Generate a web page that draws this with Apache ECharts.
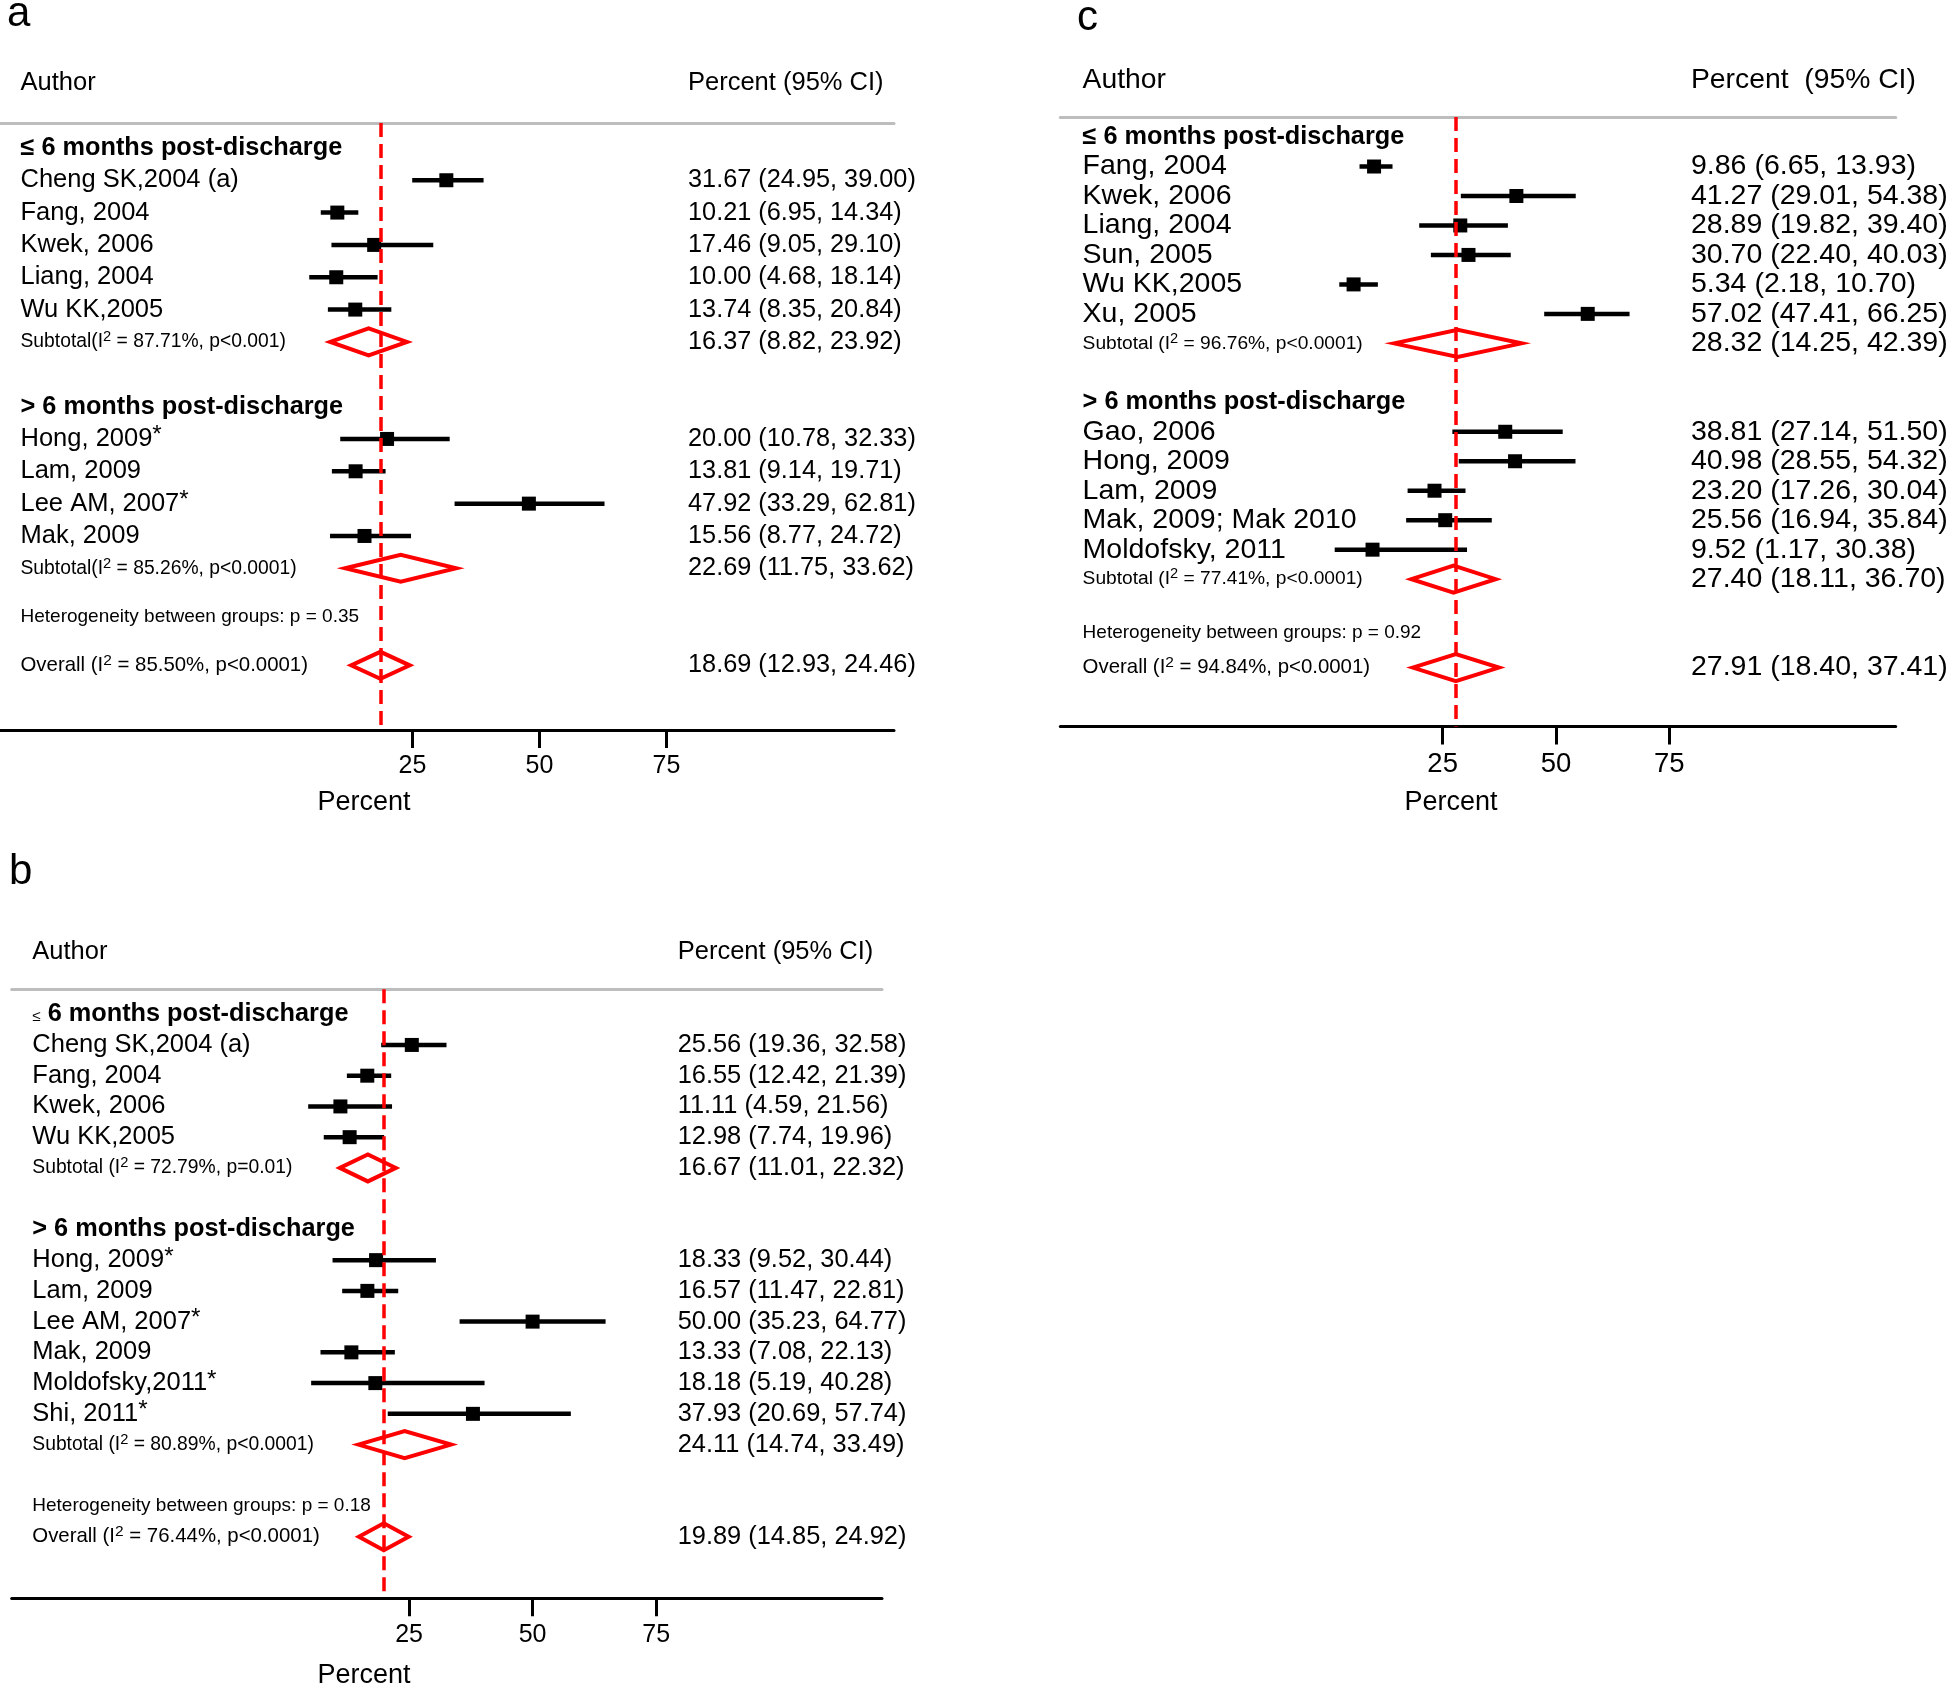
<!DOCTYPE html>
<html><head><meta charset="utf-8">
<script src="https://cdn.jsdelivr.net/npm/echarts@6/dist/echarts.min.js"></script>
<style>html,body{margin:0;padding:0;background:#fff}#c{width:1946px;height:1688px}</style>
</head><body><div id="c"></div><script>
// ================= DATA =================
const tickValues = [25, 50, 75];
const groupHeads = ['≤ 6 months post-discharge', '> 6 months post-discharge'];

// ---- panel a ----
const aAuthors = ['Cheng SK,2004 (a)', 'Fang, 2004', 'Kwek, 2006', 'Liang, 2004', 'Wu KK,2005', 'Hong, 2009*', 'Lam, 2009', 'Lee AM, 2007*', 'Mak, 2009'];
const aGroup = [1, 1, 1, 1, 1, 2, 2, 2, 2];
const aEst = [31.67, 10.21, 17.46, 10.00, 13.74, 20.00, 13.81, 47.92, 15.56];
const aLo  = [24.95, 6.95, 9.05, 4.68, 8.35, 10.78, 9.14, 33.29, 8.77];
const aHi  = [39.00, 14.34, 29.10, 18.14, 20.84, 32.33, 19.71, 62.81, 24.72];
const aSubEst = [16.37, 22.69];
const aSubLo  = [8.82, 11.75];
const aSubHi  = [23.92, 33.62];
const aSubLabels = ['Subtotal(I^2 = 87.71%, p<0.001)', 'Subtotal(I^2 = 85.26%, p<0.0001)'];
const aHetLabel = 'Heterogeneity between groups: p = 0.35';
const aOverall = [18.69, 12.93, 24.46];
const aOverallLabel = 'Overall (I^2 = 85.50%, p<0.0001)';

// ---- panel b ----
const bAuthors = ['Cheng SK,2004 (a)', 'Fang, 2004', 'Kwek, 2006', 'Wu KK,2005', 'Hong, 2009*', 'Lam, 2009', 'Lee AM, 2007*', 'Mak, 2009', 'Moldofsky,2011*', 'Shi, 2011*'];
const bGroup = [1, 1, 1, 1, 2, 2, 2, 2, 2, 2];
const bEst = [25.56, 16.55, 11.11, 12.98, 18.33, 16.57, 50.00, 13.33, 18.18, 37.93];
const bLo  = [19.36, 12.42, 4.59, 7.74, 9.52, 11.47, 35.23, 7.08, 5.19, 20.69];
const bHi  = [32.58, 21.39, 21.56, 19.96, 30.44, 22.81, 64.77, 22.13, 40.28, 57.74];
const bSubEst = [16.67, 24.11];
const bSubLo  = [11.01, 14.74];
const bSubHi  = [22.32, 33.49];
const bSubLabels = ['Subtotal (I^2 = 72.79%, p=0.01)', 'Subtotal (I^2 = 80.89%, p<0.0001)'];
const bHetLabel = 'Heterogeneity between groups: p = 0.18';
const bOverall = [19.89, 14.85, 24.92];
const bOverallLabel = 'Overall (I^2 = 76.44%, p<0.0001)';

// ---- panel c ----
const cAuthors = ['Fang, 2004', 'Kwek, 2006', 'Liang, 2004', 'Sun, 2005', 'Wu KK,2005', 'Xu, 2005', 'Gao, 2006', 'Hong, 2009', 'Lam, 2009', 'Mak, 2009; Mak 2010', 'Moldofsky, 2011'];
const cGroup = [1, 1, 1, 1, 1, 1, 2, 2, 2, 2, 2];
const cEst = [9.86, 41.27, 28.89, 30.70, 5.34, 57.02, 38.81, 40.98, 23.20, 25.56, 9.52];
const cLo  = [6.65, 29.01, 19.82, 22.40, 2.18, 47.41, 27.14, 28.55, 17.26, 16.94, 1.17];
const cHi  = [13.93, 54.38, 39.40, 40.03, 10.70, 66.25, 51.50, 54.32, 30.04, 35.84, 30.38];
const cSubEst = [28.32, 27.40];
const cSubLo  = [14.25, 18.11];
const cSubHi  = [42.39, 36.70];
const cSubLabels = ['Subtotal (I^2 = 96.76%, p<0.0001)', 'Subtotal (I^2 = 77.41%, p<0.0001)'];
const cHetLabel = 'Heterogeneity between groups: p = 0.92';
const cOverall = [27.91, 18.40, 37.41];
const cOverallLabel = 'Overall (I^2 = 94.84%, p<0.0001)';

// ================= LAYOUT / STYLE =================
const FONT = '"Liberation Sans", Arial, Helvetica, sans-serif';
const RED = '#ff0000';

const panels = [
  { letter: 'a', d: {authors: aAuthors, group: aGroup, est: aEst, lo: aLo, hi: aHi, subEst: aSubEst, subLo: aSubLo, subHi: aSubHi, subLabels: aSubLabels, het: aHetLabel, overall: aOverall, overallLabel: aOverallLabel},
    L: {left: 0, top: 123, width: 894, height: 607, xMin: -56.2, xMax: 119.8, yMin: -0.77, hetGap: 1.5, ovGap: 1.5,
        labelX: 20.5, ciX: 688, rowFont: 25.5, ciFont: 25.3, headFont: 25.3, subFont: 19.3, hetFont: 19, ovFont: 20.4, tickFont: 25,
        colHeadFont: 25.5, colHeadY: 83, ciHead: 'Percent (95% CI)', letterX: 7, letterY: 14, titleX: 364, titleY: 803, smallLe: false} },
  { letter: 'b', d: {authors: bAuthors, group: bGroup, est: bEst, lo: bLo, hi: bHi, subEst: bSubEst, subLo: bSubLo, subHi: bSubHi, subLabels: bSubLabels, het: bHetLabel, overall: bOverall, overallLabel: bOverallLabel},
    L: {left: 11.7, top: 989.3, width: 870.3, height: 609, xMin: -55.4, xMax: 120.7, yMin: -0.81, hetGap: 2, ovGap: 1,
        labelX: 20.6, ciX: 666, rowFont: 25.5, ciFont: 25.4, headFont: 25.3, subFont: 19.3, hetFont: 19, ovFont: 20.4, tickFont: 25,
        colHeadFont: 25.5, colHeadY: 952, ciHead: 'Percent (95% CI)', letterX: 9, letterY: 872, titleX: 364, titleY: 1676, smallLe: true} },
  { letter: 'c', d: {authors: cAuthors, group: cGroup, est: cEst, lo: cLo, hi: cHi, subEst: cSubEst, subLo: cSubLo, subHi: cSubHi, subLabels: cSubLabels, het: cHetLabel, overall: cOverall, overallLabel: cOverallLabel},
    L: {left: 1060.3, top: 117, width: 835.4, height: 609.5, xMin: -59.4, xMax: 125.0, yMin: -0.68, hetGap: 1.81, ovGap: 1.19,
        labelX: 22.3, ciX: 630.7, rowFont: 28.5, ciFont: 28.5, headFont: 25.3, subFont: 19.2, hetFont: 19, ovFont: 20.4, tickFont: 27.5,
        colHeadFont: 28.3, colHeadY: 80, ciHead: 'Percent  (95% CI)', letterX: 1077, letterY: 18, titleX: 1451, titleY: 803, smallLe: false} }
];

function fmt(v) { return v.toFixed(2); }
function ciText(e, l, h) { return fmt(e) + ' (' + fmt(l) + ', ' + fmt(h) + ')'; }
function richify(s) { return s.replace('^2', '{sup|2}').replace(/\*$/, '{star|*}'); }
function richFor(fs) {
  return {
    sup: {fontSize: fs * 0.76, fontFamily: FONT, padding: [0, 0, fs * 0.5, 0]},
    star: {fontSize: fs * 0.95, fontFamily: FONT, padding: [0, 0, fs * 0.25, 0]},
    le: {fontSize: fs * 0.6, fontFamily: FONT, fontWeight: 'normal', padding: [fs * 0.2, 0, 0, 0]}
  };
}

const option = {animation: false, backgroundColor: '#fff', grid: [], xAxis: [], yAxis: [], series: [], graphic: []};

panels.forEach((P, pi) => {
  const d = P.d, L = P.L;
  // row structure
  const rows = [];
  let k = 0;
  rows.push({kind: 'head', y: k++, text: groupHeads[0]});
  d.authors.forEach((a, i) => { if (d.group[i] === 1) rows.push({kind: 'study', y: k++, i}); });
  rows.push({kind: 'sub', y: k, j: 0}); k += 2;
  rows.push({kind: 'head', y: k++, text: groupHeads[1]});
  d.authors.forEach((a, i) => { if (d.group[i] === 2) rows.push({kind: 'study', y: k++, i}); });
  rows.push({kind: 'sub', y: k, j: 1});
  const yHet = k + L.hetGap, yOv = yHet + L.ovGap;
  rows.push({kind: 'het', y: yHet});
  rows.push({kind: 'overall', y: yOv});
  const yMax = yOv + 2;

  option.grid.push({left: L.left, top: L.top, width: L.width, height: L.height, containLabel: false, outerBoundsMode: 'none'});
  option.xAxis.push({
    gridIndex: pi, type: 'value', min: L.xMin, max: L.xMax, position: 'bottom',
    axisLine: {show: true, onZero: false, lineStyle: {color: '#000', width: 3}},
    axisTick: {show: true, customValues: tickValues, length: 18, lineStyle: {color: '#000', width: 3}},
    axisLabel: {show: true, customValues: tickValues, fontSize: L.tickFont, fontFamily: FONT, color: '#000', margin: 24},
    splitLine: {show: false}
  });
  option.xAxis.push({
    gridIndex: pi, type: 'value', min: L.xMin, max: L.xMax, position: 'top',
    axisLine: {show: true, onZero: false, lineStyle: {color: '#bdbdbd', width: 3}},
    axisTick: {show: false}, axisLabel: {show: false}, splitLine: {show: false}
  });
  option.yAxis.push({gridIndex: pi, type: 'value', min: L.yMin, max: yMax, inverse: true, show: false, splitLine: {show: false}});

  const xi = 2 * pi, yi = pi;

  // studies: CI lines + squares
  const studyRows = rows.filter(r => r.kind === 'study');
  option.series.push({
    type: 'custom', xAxisIndex: xi, yAxisIndex: yi, z: 2, clip: false,
    data: studyRows.map(r => [d.lo[r.i], d.hi[r.i], d.est[r.i], r.y]),
    encode: {x: [0, 1, 2], y: 3},
    renderItem: (params, api) => {
      const y = api.value(3);
      const p1 = api.coord([api.value(0), y]);
      const p2 = api.coord([api.value(1), y]);
      const c = api.coord([api.value(2), y]);
      return {type: 'group', children: [
        {type: 'line', shape: {x1: p1[0], y1: p1[1], x2: p2[0], y2: p2[1]}, style: {stroke: '#000', lineWidth: 4.5}},
        {type: 'rect', shape: {x: c[0] - 7, y: c[1] - 7, width: 14, height: 14}, style: {fill: '#000'}}
      ]};
    }
  });

  // diamonds (subtotals + overall) with dashed overall line
  const diaData = rows.filter(r => r.kind === 'sub').map(r => [d.subLo[r.j], d.subHi[r.j], d.subEst[r.j], r.y]);
  diaData.push([d.overall[1], d.overall[2], d.overall[0], yOv]);
  option.series.push({
    type: 'custom', xAxisIndex: xi, yAxisIndex: yi, z: 3, clip: false,
    data: diaData, encode: {x: [0, 1, 2], y: 3},
    renderItem: (params, api) => {
      const y = api.value(3);
      const l = api.coord([api.value(0), y]);
      const h = api.coord([api.value(1), y]);
      const c = api.coord([api.value(2), y]);
      const hh = 13.5;
      return {type: 'polygon', shape: {points: [[l[0], l[1]], [c[0], c[1] - hh], [h[0], h[1]], [c[0], c[1] + hh]]},
        style: {fill: 'none', stroke: RED, lineWidth: 4, lineJoin: 'miter'}};
    },
    markLine: {
      silent: true, symbol: ['none', 'none'], label: {show: false}, z: 5,
      lineStyle: {color: RED, width: 3.5, type: [14, 7]},
      data: [{xAxis: d.overall[0]}]
    }
  });

  // texts
  option.series.push({
    type: 'custom', xAxisIndex: xi, yAxisIndex: yi, z: 4, clip: false,
    data: rows.map((r, idx) => [0, r.y, idx]), encode: {x: 0, y: 1},
    renderItem: (params, api) => {
      const r = rows[api.value(2)];
      const yPix = api.coord([0, api.value(1)])[1];
      const x0 = params.coordSys.x;
      let label = '', fs = L.rowFont, fw = 'normal', ci = null;
      if (r.kind === 'head') {
        label = r.text; fs = L.headFont; fw = 'bold';
        if (L.smallLe) label = label.replace('≤', '{le|≤}');
      } else if (r.kind === 'study') {
        label = richify(d.authors[r.i]); ci = ciText(d.est[r.i], d.lo[r.i], d.hi[r.i]);
      } else if (r.kind === 'sub') {
        label = richify(d.subLabels[r.j]); fs = L.subFont; ci = ciText(d.subEst[r.j], d.subLo[r.j], d.subHi[r.j]);
      } else if (r.kind === 'het') {
        label = d.het; fs = L.hetFont;
      } else {
        label = richify(d.overallLabel); fs = L.ovFont; ci = ciText(d.overall[0], d.overall[1], d.overall[2]);
      }
      const children = [{type: 'text', style: {text: label, x: x0 + L.labelX, y: yPix, align: 'left', verticalAlign: 'middle',
        fontSize: fs, fontFamily: FONT, fontWeight: fw, fill: '#000', rich: richFor(fs)}}];
      if (ci) children.push({type: 'text', style: {text: ci, x: x0 + L.ciX, y: yPix, align: 'left', verticalAlign: 'middle',
        fontSize: L.ciFont, fontFamily: FONT, fill: '#000'}});
      return {type: 'group', children};
    }
  });

  // panel letter, column headers, axis title
  option.graphic.push(
    {type: 'text', x: L.letterX, y: L.letterY, style: {text: P.letter, fontSize: 42, fontFamily: FONT, fill: '#000', align: 'left', verticalAlign: 'middle'}},
    {type: 'text', x: L.left + L.labelX, y: L.colHeadY, style: {text: 'Author', fontSize: L.colHeadFont, fontFamily: FONT, fill: '#000', align: 'left', verticalAlign: 'middle'}},
    {type: 'text', x: L.left + L.ciX, y: L.colHeadY, style: {text: L.ciHead, fontSize: L.colHeadFont, fontFamily: FONT, fill: '#000', align: 'left', verticalAlign: 'middle'}},
    {type: 'text', x: L.titleX, y: L.titleY, style: {text: 'Percent', fontSize: 27, fontFamily: FONT, fill: '#000', align: 'center', verticalAlign: 'middle'}}
  );
});

const chart = echarts.init(document.getElementById('c'), null, {renderer: 'canvas', width: 1946, height: 1688});
chart.setOption(option);
</script></body></html>
